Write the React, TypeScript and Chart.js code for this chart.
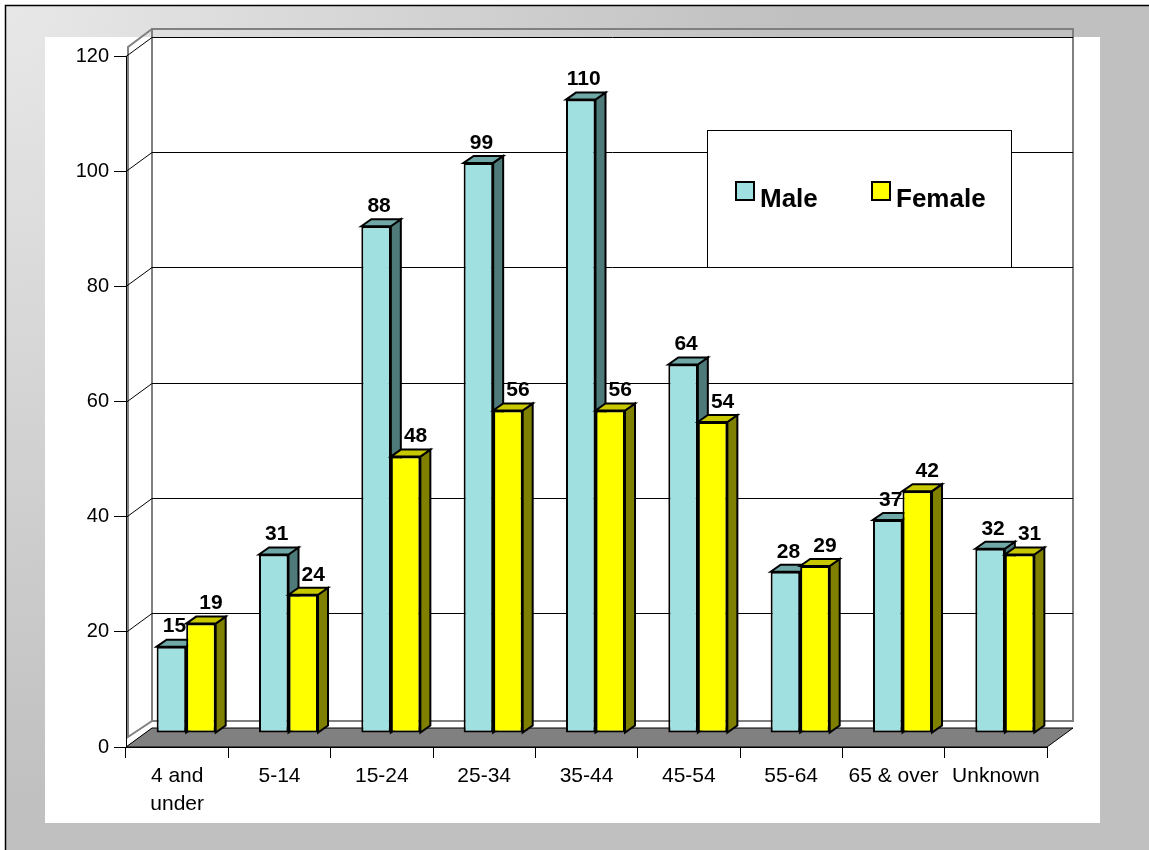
import React, { useEffect, useRef } from "react";
import { Chart, registerables } from "chart.js";

Chart.register(...registerables);

// ---- data ----
const categories: (string | string[])[] = [
  ["4 and", "under"],
  "5-14",
  "15-24",
  "25-34",
  "35-44",
  "45-54",
  "55-64",
  "65 & over",
  "Unknown",
];
const seriesNames = ["Male", "Female"];
const maleValues = [15, 31, 88, 99, 110, 64, 28, 37, 32];
const femaleValues = [19, 24, 48, 56, 56, 54, 29, 42, 31];
const yMin = 0;
const yMax = 120;
const yStep = 20;

// ---- styles ----
const W = 1149;
const H = 850;
const FONT = "'Liberation Sans', Arial, Helvetica, sans-serif";
const maleFront = "#a0e0e0";
const maleTop = "#70a8a8";
const maleSide = "#4f7a7a";
const femaleFront = "#ffff00";
const femaleTop = "#c8c800";
const femaleSide = "#808000";
const faceColors = [
  { top: maleTop, side: maleSide },
  { top: femaleTop, side: femaleSide },
];
const labelShiftX = [3, 10];

// wall depth
const WALL_DX = 26;
const WALL_DY = -19;
// bar placement in depth
const BAR_SHIFT_X = 9;
const BAR_SHIFT_Y = -14;
// bar depth
const BAR_DX = 10;
const BAR_DY = -7;

function poly(ctx: CanvasRenderingContext2D, pts: number[][]) {
  ctx.beginPath();
  ctx.moveTo(pts[0][0], pts[0][1]);
  for (let i = 1; i < pts.length; i++) ctx.lineTo(pts[i][0], pts[i][1]);
  ctx.closePath();
}

function drawFaces(chart: any, dsIndex: number) {
  const ctx: CanvasRenderingContext2D = chart.ctx;
  const meta = chart.getDatasetMeta(dsIndex);
  const colors = faceColors[dsIndex];
  ctx.save();
  ctx.lineWidth = 2;
  ctx.strokeStyle = "#000";
  ctx.lineJoin = "miter";
  meta.data.forEach((el: any) => {
    const { x, y, base, width } = el.getProps(["x", "y", "base", "width"], true);
    const l = x - width / 2;
    const r = x + width / 2;
    // side
    poly(ctx, [
      [r, y],
      [r + BAR_DX, y + BAR_DY],
      [r + BAR_DX, base + BAR_DY],
      [r, base],
    ]);
    ctx.fillStyle = colors.side;
    ctx.fill();
    ctx.stroke();
    // top
    poly(ctx, [
      [l, y],
      [l + BAR_DX, y + BAR_DY],
      [r + BAR_DX, y + BAR_DY],
      [r, y],
    ]);
    ctx.fillStyle = colors.top;
    ctx.fill();
    ctx.stroke();
  });
  ctx.restore();
}

const plot3d = {
  id: "plot3d",
  beforeDraw(chart: any) {
    const ctx: CanvasRenderingContext2D = chart.ctx;
    const ca = chart.chartArea;
    const yScale = chart.scales.y;
    ctx.save();
    // outer background
    ctx.fillStyle = "#ffffff";
    ctx.fillRect(0, 0, W, H);
    const g = ctx.createRadialGradient(0, 0, 0, 0, 0, 800);
    g.addColorStop(0, "#e8e8e8");
    g.addColorStop(1, "#c0c0c0");
    ctx.fillStyle = g;
    ctx.fillRect(6, 6, W - 6, H - 6);
    ctx.strokeStyle = "#000";
    ctx.lineWidth = 1.5;
    ctx.beginPath();
    ctx.moveTo(5.5, H);
    ctx.lineTo(5.5, 5.5);
    ctx.lineTo(W, 5.5);
    ctx.stroke();
    // white plot panel
    ctx.fillStyle = "#ffffff";
    ctx.fillRect(45, 37, 1055, 786);

    const x0 = ca.left;
    const x1 = ca.right;
    const yt = ca.top;
    const yb = ca.bottom;
    const ext = 8;
    // back wall outline
    ctx.strokeStyle = "#808080";
    ctx.lineWidth = 2;
    ctx.beginPath();
    ctx.rect(x0 + WALL_DX, yt + WALL_DY - ext, x1 - x0, yb - yt + ext - 7);
    ctx.stroke();
    // left wall outline
    ctx.beginPath();
    ctx.moveTo(x0 + WALL_DX, yt + WALL_DY - ext);
    ctx.lineTo(x0 + 2, yt - ext - 1);
    ctx.lineTo(x0 + 2, yb - 10);
    ctx.lineTo(x0 + WALL_DX, yb + WALL_DY - 7);
    ctx.stroke();

    // gridlines on walls
    ctx.strokeStyle = "#000";
    ctx.lineWidth = 1;
    for (let v = yMin; v <= yMax; v += yStep) {
      const py = Math.round(yScale.getPixelForValue(v)) + 0.5;
      ctx.beginPath();
      ctx.moveTo(x0, py);
      ctx.lineTo(x0 + WALL_DX, py + WALL_DY);
      ctx.lineTo(x1 + WALL_DX, py + WALL_DY);
      ctx.stroke();
    }

    // floor
    poly(ctx, [
      [x0, yb],
      [x1, yb],
      [x1 + WALL_DX, yb + WALL_DY],
      [x0 + WALL_DX, yb + WALL_DY],
    ]);
    ctx.fillStyle = "#808080";
    ctx.fill();
    ctx.strokeStyle = "#000";
    ctx.lineWidth = 1;
    ctx.stroke();
    ctx.restore();
  },
  beforeDatasetsDraw(chart: any) {
    const ctx: CanvasRenderingContext2D = chart.ctx;
    ctx.save();
    ctx.translate(BAR_SHIFT_X, BAR_SHIFT_Y);
    drawFaces(chart, 0);
  },
  afterDatasetsDraw(chart: any) {
    const ctx: CanvasRenderingContext2D = chart.ctx;
    drawFaces(chart, 1);
    ctx.restore();

    // value labels
    ctx.save();
    ctx.fillStyle = "#000";
    ctx.font = `bold 21px ${FONT}`;
    ctx.textAlign = "center";
    ctx.textBaseline = "middle";
    chart.data.datasets.forEach((ds: any, i: number) => {
      const meta = chart.getDatasetMeta(i);
      meta.data.forEach((el: any, j: number) => {
        const { x, y } = el.getProps(["x", "y"], true);
        ctx.fillText(String(ds.data[j]), x + BAR_SHIFT_X + labelShiftX[i], y + BAR_SHIFT_Y - 20);
      });
    });
    ctx.restore();
  },
  afterDraw(chart: any) {
    const ctx: CanvasRenderingContext2D = chart.ctx;
    ctx.save();
    // legend box
    const bx = 707;
    const by = 130;
    const bw = 304;
    const bh = 137;
    ctx.fillStyle = "#ffffff";
    ctx.fillRect(bx, by, bw, bh);
    ctx.strokeStyle = "#000";
    ctx.lineWidth = 1;
    ctx.strokeRect(bx + 0.5, by + 0.5, bw, bh);
    const itemX = [bx + 29, bx + 165];
    chart.data.datasets.forEach((ds: any, i: number) => {
      const sx = itemX[i];
      const sy = by + 52;
      ctx.fillStyle = ds.backgroundColor;
      ctx.fillRect(sx, sy, 18, 18);
      ctx.lineWidth = 2;
      ctx.strokeStyle = "#000";
      ctx.strokeRect(sx, sy, 18, 18);
      ctx.fillStyle = "#000";
      ctx.font = `bold 26px ${FONT}`;
      ctx.textAlign = "left";
      ctx.textBaseline = "alphabetic";
      ctx.fillText(ds.label, sx + 24, by + 77);
    });
    ctx.restore();
  },
};

export default function App() {
  const ref = useRef<HTMLCanvasElement>(null);
  useEffect(() => {
    if (!ref.current) return;
    const chart = new Chart(ref.current, {
      type: "bar",
      data: {
        labels: categories,
        datasets: [
          {
            label: seriesNames[0],
            data: maleValues,
            backgroundColor: maleFront,
            borderColor: "#000",
            borderWidth: 2,
            borderSkipped: false,
            categoryPercentage: 0.577,
            barPercentage: 1,
            clip: false,
          } as any,
          {
            label: seriesNames[1],
            data: femaleValues,
            backgroundColor: femaleFront,
            borderColor: "#000",
            borderWidth: 2,
            borderSkipped: false,
            categoryPercentage: 0.577,
            barPercentage: 1,
            clip: false,
          } as any,
        ],
      },
      options: {
        responsive: false,
        animation: false,
        devicePixelRatio: 1,
        layout: { padding: { left: 45, right: 102, top: 56, bottom: 0 } },
        plugins: {
          legend: { display: false },
          tooltip: { enabled: false },
        },
        scales: {
          x: {
            grid: {
              display: true,
              drawOnChartArea: false,
              drawTicks: true,
              tickLength: 11,
              color: "#000",
              offset: true,
            },
            border: { display: true, color: "#000", width: 1 },
            ticks: {
              color: "#000",
              font: { family: FONT, size: 21, lineHeight: 1.3 },
              padding: 5,
              maxRotation: 0,
              autoSkip: false,
            },
            afterFit: (s: any) => {
              s.height = 103;
            },
          },
          y: {
            min: yMin,
            max: yMax,
            grid: {
              display: true,
              drawOnChartArea: false,
              drawTicks: true,
              tickLength: 12,
              color: "#000",
            },
            border: { display: true, color: "#000", width: 1 },
            ticks: {
              stepSize: yStep,
              color: "#000",
              font: { family: FONT, size: 20 },
              padding: 5,
            },
            afterFit: (s: any) => {
              s.width = 81;
            },
          },
        },
      } as any,
      plugins: [plot3d],
    });
    return () => chart.destroy();
  }, []);
  return (
    <div style={{ position: "absolute", left: 0, top: 0, width: W, height: H }}>
      <canvas ref={ref} width={W} height={H} style={{ display: "block", width: W, height: H }} />
    </div>
  );
}
